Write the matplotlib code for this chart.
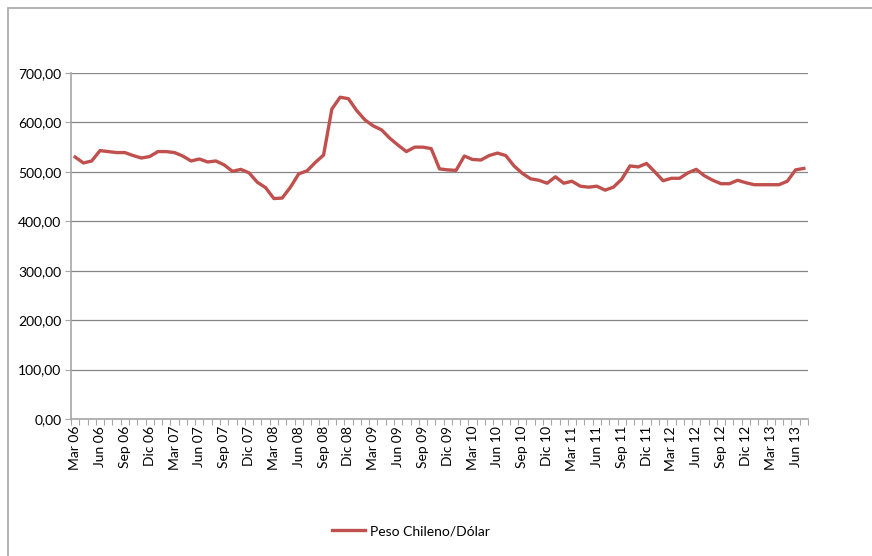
import numpy as np
import matplotlib.pyplot as plt
from matplotlib.patches import Rectangle

# Monthly CLP/USD, Mar 06 - Jul 13
months = ['Ene', 'Feb', 'Mar', 'Abr', 'May', 'Jun', 'Jul', 'Ago', 'Sep', 'Oct', 'Nov', 'Dic']
v2006 = [530, 518, 522, 543, 541, 539, 539, 533, 528, 531]            # Mar-Dic
v2007 = [541, 541, 539, 532, 522, 526, 520, 522, 514, 501, 505, 498]
v2008 = [479, 468, 446, 447, 469, 496, 502, 519, 534, 627, 651, 648]
v2009 = [624, 605, 593, 585, 568, 554, 541, 550, 550, 547, 506, 504]
v2010 = [503, 532, 525, 524, 533, 538, 533, 512, 497, 486, 483, 477]
v2011 = [490, 477, 481, 471, 469, 471, 463, 469, 485, 512, 510, 517]
v2012 = [500, 482, 487, 487, 498, 505, 492, 483, 476, 476, 483, 478]
v2013 = [474, 474, 474, 474, 481, 504, 507]                            # Ene-Jul

values = v2006 + v2007 + v2008 + v2009 + v2010 + v2011 + v2012 + v2013
labels = []
for yr in range(6, 14):
    for m in range(12):
        if (yr == 6 and m < 2) or (yr == 13 and m > 6):
            continue
        labels.append(f'{months[m]} {yr:02d}')

plt.rcParams['font.family'] = ['Lato', 'DejaVu Sans']

fig = plt.figure(figsize=(8.72, 5.56), dpi=100)
ax = fig.add_axes([71/872, 1-419/556, 737/872, 346/556])

x = np.arange(len(values))
line, = ax.plot(x, values, color='#C0504D', lw=2.4, label='Peso Chileno/Dólar')

ax.set_xlim(-0.5, len(values)-0.5)
ax.set_ylim(0, 700)
ax.set_yticks(np.arange(0, 701, 100))
ax.set_yticklabels([f'{v},00' for v in range(0, 701, 100)], fontsize=10)
ax.grid(axis='y', color='#868686', lw=0.9)
ax.set_axisbelow(True)

# category boundary ticks (major, unlabeled), labels every 3 months (minor)
ax.set_xticks(np.arange(len(values)+1)-0.5)
ax.set_xticklabels([])
ax.set_xticks(x[::3], minor=True)
ax.set_xticklabels(labels[::3], minor=True, rotation=90, fontsize=10)
ax.tick_params(axis='x', which='major', length=4, color='#a6a6a6', direction='out')
ax.tick_params(axis='x', which='minor', length=0, pad=5)
ax.tick_params(axis='y', length=4, color='#a6a6a6', pad=3)

for s in ['top', 'right']:
    ax.spines[s].set_visible(False)
for s in ['left', 'bottom']:
    ax.spines[s].set_color('#a6a6a6')
    ax.spines[s].set_linewidth(1.2)

# outer chart frame
fig.patches.append(Rectangle((8/872, -0.2), 1.5, 1.2 - 8/556, transform=fig.transFigure,
                             fill=False, edgecolor='#a6a6a6', lw=1.2))

fig.legend(handles=[line], loc='center left', bbox_to_anchor=(319/872, 1-531/556),
           frameon=False, fontsize=10, handlelength=2.4, handletextpad=0.4)

fig.savefig('out.png', dpi=100)
